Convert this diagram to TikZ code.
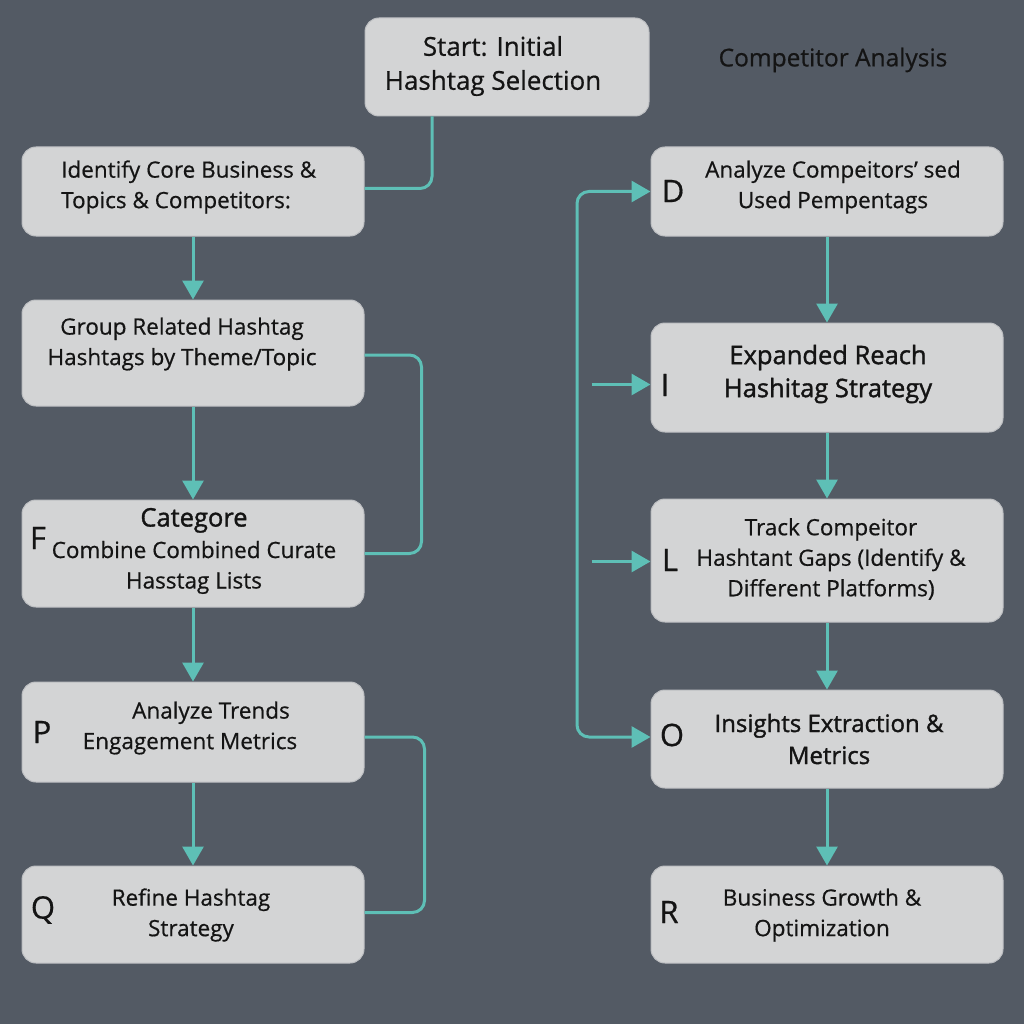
\documentclass[tikz,border=0pt]{standalone}
\usepackage{fontspec}
\setmainfont{Open Sans}[FakeBold=0.6]
\newfontfamily\heavier{Open Sans}[FakeBold=1.4]
\usetikzlibrary{arrows.meta}
\definecolor{bg}{HTML}{535A64}
\definecolor{boxfill}{HTML}{D3D4D5}
\definecolor{boxedge}{HTML}{BDBFC2}
\definecolor{connc}{HTML}{5EBFB6}
\definecolor{txt}{HTML}{141414}
\begin{document}
\begin{tikzpicture}[x=1pt,y=-1pt,
  box/.style={draw=boxedge, line width=1pt, fill=boxfill, rounded corners=14pt, inner sep=0pt},
  lbl/.style={text=txt, inner sep=0pt, align=center, font=\fontsize{22.5}{30.5}\selectfont},
  big/.style={lbl, font=\fontsize{26}{34}\selectfont},
  letter/.style={text=txt, inner sep=0pt, font=\fontsize{31}{32}\selectfont},
  conn/.style={draw=connc, line width=3pt, rounded corners=12pt},
  arr/.style={conn, -{Triangle[length=19pt,width=21pt]}},
  arrtwo/.style={conn, {Triangle[length=19pt,width=21pt]}-{Triangle[length=19pt,width=21pt]}}]
\fill[bg] (0,0) rectangle (1024,1024);
\useasboundingbox (0,0) rectangle (1024,1024);

% boxes
\node[box, minimum width=284pt, minimum height=98pt] (s) at (507,67) {};
\node[box, minimum width=342pt, minimum height=89pt] (id) at (193,191.5) {};
\node[box, minimum width=342pt, minimum height=106pt] (g) at (193,353) {};
\node[box, minimum width=342pt, minimum height=107pt] (c) at (193,553.5) {};
\node[box, minimum width=342pt, minimum height=100pt] (t) at (193,732) {};
\node[box, minimum width=342pt, minimum height=97pt] (r) at (193,914.5) {};
\node[box, minimum width=352pt, minimum height=89pt] (d) at (827,191.5) {};
\node[box, minimum width=352pt, minimum height=109pt] (i) at (827,377.5) {};
\node[box, minimum width=352pt, minimum height=123pt] (l) at (827,560.5) {};
\node[box, minimum width=352pt, minimum height=98pt] (o) at (827,739) {};
\node[box, minimum width=352pt, minimum height=97pt] (b) at (827,914.5) {};

% texts
\node[big] (stxt) at (493,66) {Start: Initial\\Hashtag Selection};
\node[lbl, font=\fontsize{24.5}{30}\selectfont] (comp) at (833,60) {Competitor Analysis};
\node[lbl, anchor=west, align=left] (idtxt) at (61,187) {Identify Core Business \&\\Topics \& Competitors:};
\node[lbl] (gtxt) at (182,344) {Group Related Hashtag\\Hashtags by Theme/Topic};
\node[lbl] (ctxt) at (194,551) {{\heavier\fontsize{25.5}{30}\selectfont Categore}\\[1pt]Combine Combined Curate\\Hasstag Lists};
\node[lbl] (ttxt) at (190,728) {\hspace*{42pt}Analyze Trends\\Engagement Metrics};
\node[lbl] (rtxt) at (191,915) {Refine Hashtag\\Strategy};
\node[lbl] (dtxt) at (833,187) {Analyze Compeitors’ sed\\Used Pempentags};
\node[big, font=\heavier\fontsize{25.5}{33}\selectfont] (itxt) at (828,374) {Expanded Reach\\Hashitag Strategy};
\node[lbl] (ltxt) at (831,559) {Track Compeitor\\Hashtant Gaps (Identify \&\\Different Platforms)};
\node[big, font=\heavier\fontsize{24}{32}\selectfont] (otxt) at (829,739) {Insights Extraction \&\\Metrics};
\node[lbl] (btxt) at (822,915) {Business Growth \&\\Optimization};

% letters
\node[letter] (lF) at (38,538) {F};
\node[letter] (lP) at (42,732) {P};
\node[letter] (lQ) at (43,910) {Q};
\node[letter] (lD) at (673,191) {D};
\node[letter] (lI) at (665,385) {I};
\node[letter] (lL) at (670,560) {L};
\node[letter] (lO) at (672,735) {O};
\node[letter] (lR) at (669,912) {R};

% left connectors
\draw[conn] ([xshift=-75pt]s.south) |- ([yshift=3pt]id.east);
\draw[arr] (id.south) -- (g.north);
\draw[conn] ([yshift=-2pt]g.east) -- ++(57,0) |- (c.east);
\draw[arr] (c.north |- g.south) -- (c.north);
\draw[arr] (c.south) -- (t.north);
\draw[conn] ([yshift=-5pt]t.east) -- ++(60,0) |- ([yshift=2pt]r.east);
\draw[arr] (t.south) -- (r.north);

% right connectors
\coordinate (vl) at (577,460);
\draw[arrtwo] (d.west) -| (vl) |- ([yshift=2pt]o.west);
\draw[arr] ([xshift=-59pt,yshift=-7pt]i.west) -- ([yshift=-7pt]i.west);
\draw[arr] ([xshift=-59pt,yshift=-1pt]l.west) -- ([yshift=-1pt]l.west);
\draw[arr] (d.south) -- (i.north);
\draw[arr] (i.south) -- (l.north);
\draw[arr] (l.south) -- (o.north);
\draw[arr] (o.south) -- (b.north);
\end{tikzpicture}
\end{document}
